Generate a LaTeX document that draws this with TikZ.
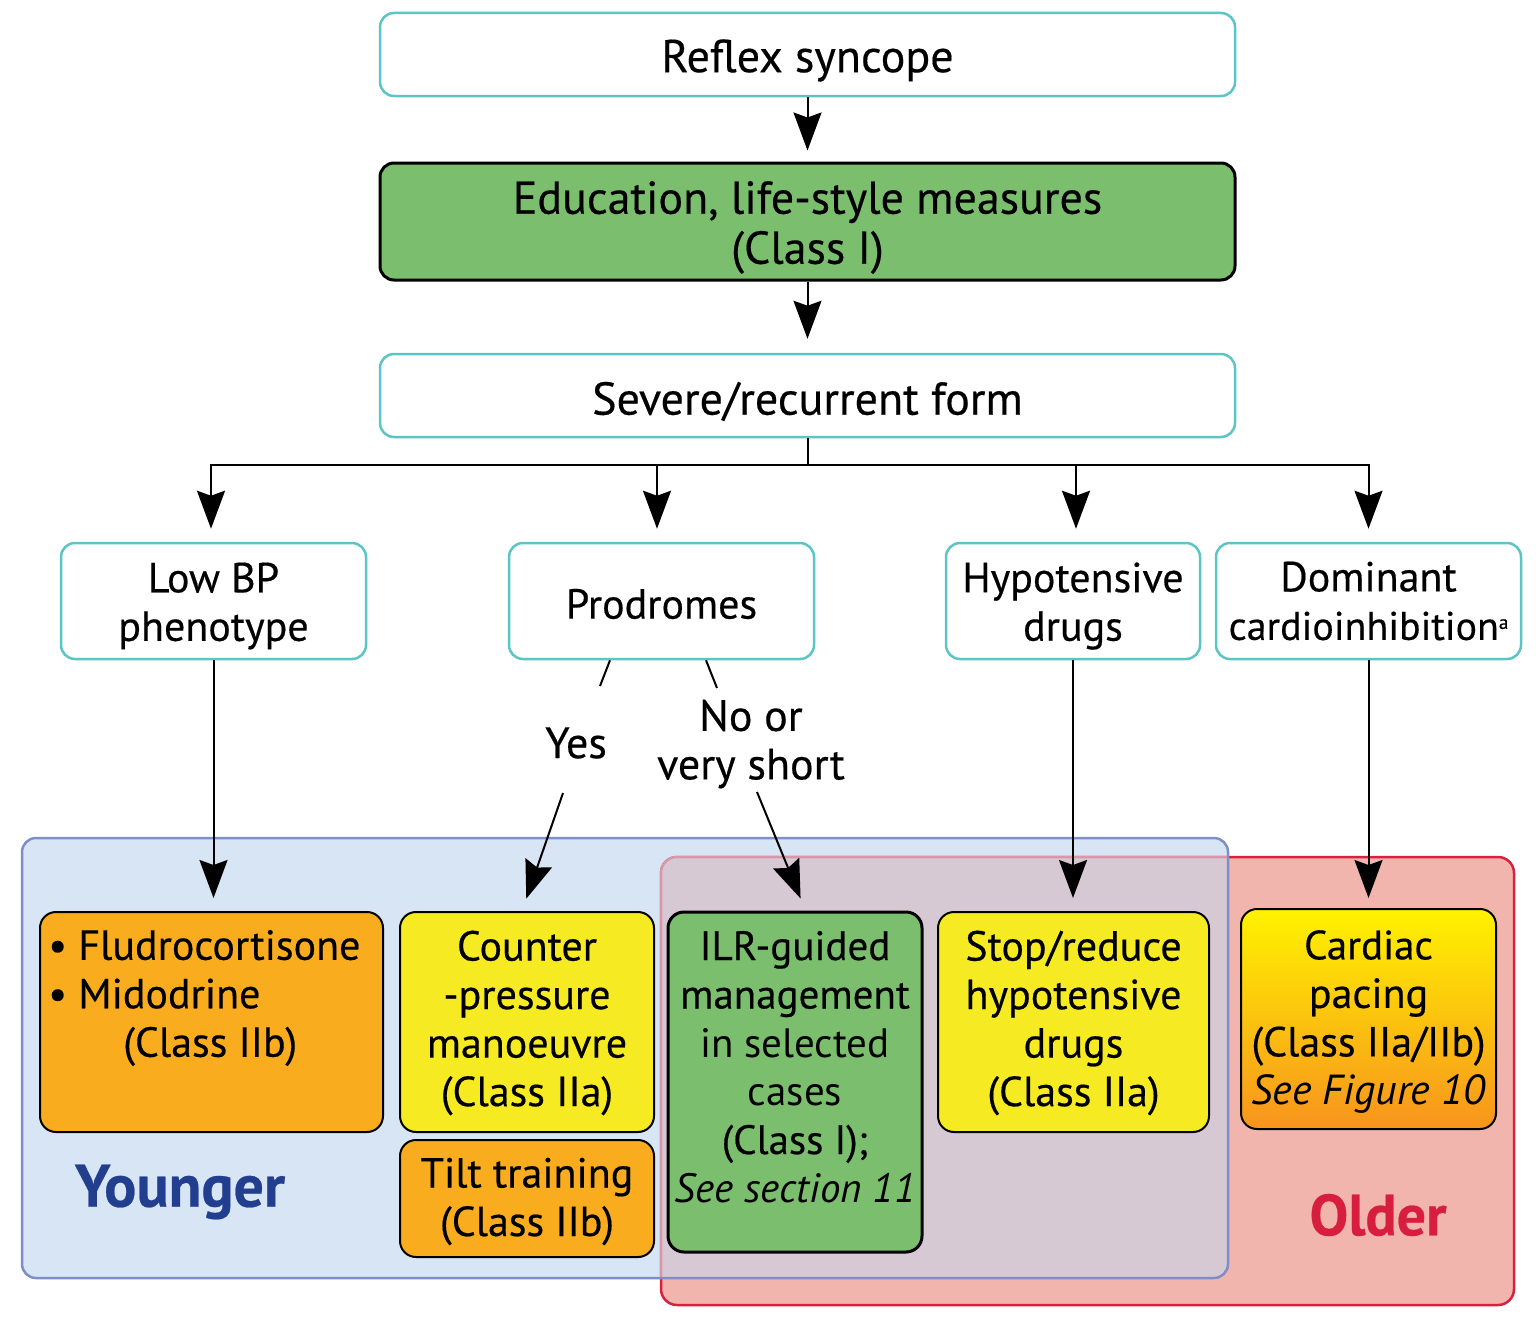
\documentclass[tikz,border=0pt]{standalone}
\usepackage{fontspec}
\setmainfont{PT Sans}[FakeBold=0.4]
\newfontfamily\lightfont{PT Sans}
\usetikzlibrary{arrows.meta}
\definecolor{tealb}{HTML}{5BC4C4}
\definecolor{grn}{HTML}{7BBF6E}
\definecolor{orng}{HTML}{F9AD1E}
\definecolor{yel}{HTML}{F6EB22}
\definecolor{bluefill}{HTML}{D8E5F4}
\definecolor{blueline}{HTML}{7E8EC6}
\definecolor{redfill}{HTML}{F1B5AE}
\definecolor{redline}{HTML}{D9203F}
\definecolor{overlapc}{HTML}{D6C9D3}
\definecolor{pinkline}{HTML}{D898A8}
\definecolor{youngc}{HTML}{223F8F}
\definecolor{oldc}{HTML}{D81E3E}
\definecolor{gradtop}{HTML}{FFF200}
\definecolor{gradbot}{HTML}{F7941D}
\tikzset{
  topbox/.style={draw=tealb, line width=2.5pt, rounded corners=14pt, fill=white, inner sep=0pt},
  blkbox/.style={draw=black, line width=2pt, rounded corners=16pt, inner sep=0pt},
  txt/.style={align=center, inner sep=0pt, font=\fontsize{42}{48.5}\selectfont},
  bigtxt/.style={align=center, inner sep=0pt, font=\fontsize{46}{50}\selectfont},
  inside/.style={label={[txt, yshift=-3pt]center:{#1}}},
  insidelow/.style={label={[txt, yshift=-5pt]center:{#1}}},
  insidebig/.style={label={[bigtxt, yshift=-6pt]center:{#1}}},
  arr/.style={line width=2pt, -{Stealth[length=38pt,width=28pt,inset=5pt]}, shorten >=13pt},
  ln/.style={line width=2pt},
  bigl/.style={inner sep=0pt, font=\bfseries\fontsize{60}{64}\selectfont},
}
\begin{document}
\begin{tikzpicture}[x=1pt,y=-1pt]
\useasboundingbox (0,0) rectangle (1536,1322);
% regions
\fill[bluefill, rounded corners=14pt] (22,838) rectangle (1228,1278);
\filldraw[fill=redfill, draw=redline, line width=2.5pt, rounded corners=16pt] (661,857) rectangle (1514,1305);
\begin{scope}
  \clip[rounded corners=14pt] (22,838) rectangle (1228,1278);
  \filldraw[fill=overlapc, draw=pinkline, line width=2.5pt, rounded corners=16pt] (661,857) rectangle (1514,1305);
\end{scope}
\draw[blueline, line width=2.5pt, rounded corners=14pt] (22,838) rectangle (1228,1278);

% top boxes
\node[topbox, minimum width=855pt, minimum height=83pt, insidebig={Reflex syncope}] (reflex) at (807.5,54.5) {};
\node[blkbox, fill=grn, line width=3pt, rounded corners=14pt, minimum width=855pt, minimum height=117pt, insidebig={Education, life-style measures\\(Class I)}] (edu) at (807.5,221.5) {};
\node[topbox, minimum width=855pt, minimum height=83pt, insidebig={Severe/recurrent form}] (sev) at (807.5,395.5) {};

\node[topbox, minimum width=305pt, minimum height=116pt, insidelow={Low BP\\phenotype}] (lowbp) at (213.5,601) {};
\node[topbox, minimum width=305pt, minimum height=116pt, inside={Prodromes}] (prod) at (661.5,601) {};
\node[topbox, minimum width=254pt, minimum height=116pt, insidelow={Hypotensive\\drugs}] (hypo) at (1073,601) {};
\node[topbox, minimum width=305pt, minimum height=116pt, label={[txt, yshift=0pt]center:{Dominant\\{\fontsize{40}{48.5}\selectfont cardioinhibition\raisebox{11pt}{\fontsize{19}{19}\selectfont a}}}}] (dom) at (1368.5,601) {};

% bottom boxes
\node[blkbox, fill=orng, minimum width=343pt, minimum height=220pt] (fl) at (211.5,1022) {};
\node[txt, align=left, anchor=west] (flt) at (48,998) {• Fludrocortisone\\• Midodrine\\\hspace*{75pt}(Class IIb)};
\node[blkbox, fill=yel, minimum width=254pt, minimum height=220pt, label={[txt, yshift=-1pt]center:{Counter\\-pressure\\manoeuvre\\(Class IIa)}}] (cp) at (527,1022) {};
\node[blkbox, fill=orng, minimum width=254pt, minimum height=117pt, inside={Tilt training\\(Class IIb)}] (tilt) at (527,1198.5) {};
\node[blkbox, fill=grn, line width=3pt, minimum width=254pt, minimum height=340pt] (ilr) at (795,1082) {};
\node[txt, font=\fontsize{41}{48.5}\selectfont] (ilrt) at (795,1067) {ILR-guided\\management\\{\lightfont in selected}\\{\lightfont cases}\\(Class I);\\{\lightfont\itshape See section 11}};
\node[blkbox, fill=yel, minimum width=271pt, minimum height=220pt, label={[txt, yshift=-1pt]center:{Stop/reduce\\hypotensive\\drugs\\(Class IIa)}}] (stop) at (1073.5,1022) {};
\node[blkbox, top color=gradtop, bottom color=gradbot, minimum width=255pt, minimum height=220pt, inside={{\fontsize{41}{48.5}\selectfont Cardiac\\pacing\\(Class IIa/IIb)\\{\lightfont\itshape See Figure 10}}}] (card) at (1368.5,1019) {};

\node[bigl, text=youngc] (young) at (180,1192) {Younger};
\node[bigl, text=oldc, font=\bfseries\fontsize{58}{62}\selectfont] (old) at (1378,1215) {Older};

% connectors
\draw[arr, shorten >=11pt] (reflex) -- (edu);
\draw[arr, shorten >=14pt] (edu) -- (sev);
\coordinate (hub) at (807.5,465);
\draw[ln] (sev.south) -- (hub);
\draw[arr] (hub) -| ([xshift=-2.5pt]lowbp.north);
\draw[arr] (hub) -| ([xshift=-4.5pt]prod.north);
\draw[arr] (hub) -| ([xshift=3pt]hypo.north);
\draw[arr] (hub) -| (dom.north);

\draw[arr] (lowbp.south) -- (lowbp.south |- fl.north);
\draw[arr] (hypo.south) -- (hypo.south |- stop.north);
\draw[arr, shorten >=10pt] (dom.south) -- (dom.south |- card.north);

% Prodromes branches
\coordinate (ya) at ([xshift=-51.5pt]prod.south);
\coordinate (yb) at (600,686);
\coordinate (yc) at (563,793);
\node[txt, font=\fontsize{44}{48.5}\selectfont] (yes) at (576,743) {Yes};
\draw[ln] (ya) -- (yb);
\draw[arr] (yc) -- ([xshift=-5pt]cp.north);
\coordinate (na) at ([xshift=44.5pt]prod.south);
\coordinate (nb) at (717,688);
\coordinate (nc) at (757,792);
\node[txt, font=\fontsize{44}{48.5}\selectfont] (no) at (751,744) {No or\\very short};
\draw[ln] (na) -- (nb);
\draw[arr] (nc) -- ([xshift=10.5pt]ilr.north);
\end{tikzpicture}
\end{document}
